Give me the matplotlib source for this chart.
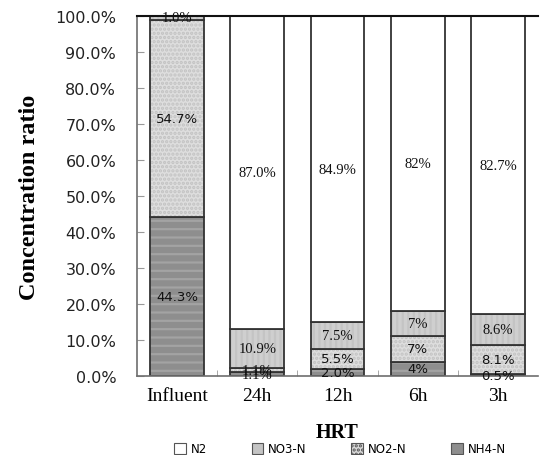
import matplotlib.pyplot as plt
import numpy as np
from matplotlib.patches import Patch

# data (percent of total N)
categories = ['Influent', '24h', '12h', '6h', '3h']
nh4 = [44.3, 1.1, 2.0, 4.0, 0.5]
no2 = [54.7, 1.1, 5.5, 7.0, 8.1]
no3 = [1.0, 10.9, 7.5, 7.0, 8.6]
n2 = [0.0, 87.0, 84.9, 82.0, 82.7]

labels_nh4 = ['44.3%', '1.1%', '2.0%', '4%', '0.5%']
labels_no2 = ['54.7%', '1.1%', '5.5%', '7%', '8.1%']
labels_no3 = ['1.0%', '10.9%', '7.5%', '7%', '8.6%']
labels_n2 = ['', '87.0%', '84.9%', '82%', '82.7%']

serif = 'Liberation Serif'
sans = 'DejaVu Sans'

plt.rcParams['hatch.linewidth'] = 1.6

fig = plt.figure(figsize=(5.4, 4.56), dpi=100)
ax = fig.add_axes([137 / 540, 79 / 456, 401 / 540, 360 / 456])

x = np.arange(len(categories))
w = 0.67

series = [
    (nh4, '#8e8e8e', '#a3a3a3', '--', 'NH4-N', labels_nh4, sans),
    (no2, '#dedede', '#c2c2c2', '....', 'NO2-N', labels_no2, sans),
    (no3, '#cfcfcf', '#c4c4c4', '|||', 'NO3-N', labels_no3, serif),
    (n2, '#ffffff', '#ffffff', None, 'N2', labels_n2, serif),
]
legend_fill = {'NH4-N': ('#8e8e8e', None), 'NO2-N': ('#dadada', '....'),
               'NO3-N': ('#c4c4c4', None), 'N2': ('#ffffff', None)}

bottom = np.zeros(len(categories))
for vals, fc, hc, hatch, name, labs, fam in series:
    vals = np.array(vals)
    # hatch layer
    ax.bar(x, vals, w, bottom=bottom, color=fc, edgecolor=hc, hatch=hatch, linewidth=0)
    # outline layer
    ax.bar(x, vals, w, bottom=bottom, fill=False, edgecolor='#333333', linewidth=1.3)
    for i, (v, lab) in enumerate(zip(vals, labs)):
        if lab == '':
            continue
        f = fam
        if categories[i] == 'Influent':
            f = serif if name == 'NO3-N' else sans
        if categories[i] == '24h':
            f = serif
        fs = 10.5 if f == serif else 9.5
        ax.text(x[i], bottom[i] + v / 2, lab, ha='center', va='center',
                fontsize=fs, family=f, color='#111111')
    bottom = bottom + vals

ax.set_xlim(-0.5, 4.5)
ax.set_ylim(0, 100)
ax.set_yticks(np.arange(0, 101, 10))
ax.set_yticklabels(['%.1f%%' % t for t in np.arange(0, 101, 10)], fontsize=11.5, family=sans,
                   color='#222222')
ax.set_xticks(x)
ax.set_xticklabels(categories, fontsize=14, family=serif)
ax.set_xticks(np.arange(0.5, 4.5, 1), minor=True)
ax.tick_params(axis='x', which='major', length=0, pad=8)
ax.tick_params(axis='x', which='minor', direction='in', length=4, color='#999999')
ax.tick_params(axis='y', direction='in', length=5, color='#999999', pad=15)

for s in ['left', 'bottom']:
    ax.spines[s].set_color('#6e6e6e')
    ax.spines[s].set_linewidth(1.2)
ax.spines['top'].set_color('#111111')
ax.spines['top'].set_linewidth(1.5)
ax.spines['right'].set_visible(False)

ax.set_ylabel('Concentration ratio', fontsize=17.5, family=serif, fontweight='bold', labelpad=11)
ax.set_xlabel('HRT', fontsize=14.5, family=serif, fontweight='bold', labelpad=13)

leg_order = ['N2', 'NO3-N', 'NO2-N', 'NH4-N']
handles = [Patch(facecolor=legend_fill[k][0], edgecolor='#555555', hatch=legend_fill[k][1],
                 linewidth=0.8) for k in leg_order]
fig.legend(handles, leg_order, loc='center', ncol=4,
           bbox_to_anchor=(340 / 540, 1 - 450 / 456), frameon=False,
           prop={'family': sans, 'size': 8.5}, handlelength=1.0, handleheight=1.0,
           handletextpad=0.4, columnspacing=3.8)

fig.savefig('out.png', dpi=100)
